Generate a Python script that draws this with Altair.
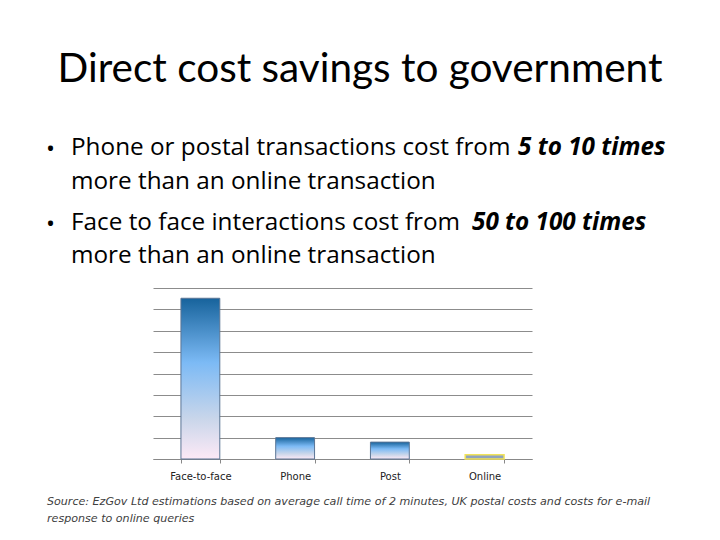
import altair as alt
import pandas as pd

categories = ["Face-to-face", "Phone", "Post", "Online"]
values = [7.52, 1.0, 0.79, 0.2]

title_text = "Direct cost savings to government"
bullet1_normal = "Phone or postal transactions cost from "
bullet1_bold = "5 to 10 times"
bullet1_cont = "more than an online transaction"
bullet2_normal = "Face to face interactions cost from "
bullet2_bold = "50 to 100 times"
bullet2_cont = "more than an online transaction"
source1 = "Source: EzGov Ltd estimations based on average call time of 2 minutes, UK postal costs and costs for e-mail"
source2 = "response to online queries"

df = pd.DataFrame({"category": categories, "value": values})

W, H = 379, 171
OX, OY = 153, 288  # plot origin in page pixels

def px(x):
    return x - OX

def py(y):
    return y - OY

xenc = alt.X("category:N", sort=categories, title=None,
             scale=alt.Scale(paddingInner=0.59, paddingOuter=0.295),
             axis=alt.Axis(labelAngle=0, labelFont="DejaVu Sans", labelFontSize=10,
                           labelColor="#222222", labelPadding=8, tickBand="extent",
                           tickSize=4, tickColor="#888888", domainColor="#888888",
                           grid=False))
yenc = alt.Y("value:Q", title=None,
             scale=alt.Scale(domain=[0, 8], nice=False),
             axis=alt.Axis(labels=False, ticks=False, domain=False, tickCount=8,
                           grid=True, gridColor="#8c8c8c", gridWidth=1))

grad = alt.Gradient(
    gradient="linear",
    stops=[alt.GradientStop(color="#17639c", offset=0),
           alt.GradientStop(color="#7cbaf5", offset=0.4),
           alt.GradientStop(color="#c9d6ea", offset=0.75),
           alt.GradientStop(color="#fde9f6", offset=1)],
    x1=0, x2=0, y1=0, y2=1)

bars = alt.Chart(df).transform_filter(alt.datum.category != "Online").mark_bar(
    fill=grad, stroke="#5b7595", strokeWidth=1
).encode(x=xenc, y=yenc)

online = alt.Chart(df).transform_filter(alt.datum.category == "Online").mark_bar(
    fill="#8fa3bf", stroke="#f2e35a", strokeWidth=1.5
).encode(x=xenc, y=yenc)

def txt(s, x, y, size, font="Open Sans", style="normal", weight="normal", color="#000000", align="left"):
    return alt.Chart(pd.DataFrame({"t": [s]})).mark_text(
        font=font, fontSize=size, fontStyle=style, fontWeight=weight, color=color,
        align=align, baseline="alphabetic"
    ).encode(x=alt.value(px(x)), y=alt.value(py(y)), text="t:N")

BS = 24.3
texts = [
    txt(title_text, 360, 82, 40.5, font="Lato", align="center"),
    txt("\u2022", 46, 157, 24),
    txt(bullet1_normal, 71, 155, BS),
    txt(bullet1_bold, 518, 155, BS, style="italic", weight="bold"),
    txt(bullet1_cont, 71, 189, BS),
    txt("\u2022", 46, 232, 24),
    txt(bullet2_normal, 71, 230, BS),
    txt(bullet2_bold, 472, 230, BS, style="italic", weight="bold"),
    txt(bullet2_cont, 71, 263, BS),
    txt(source1, 47, 505, 11.1, font="DejaVu Sans", style="italic", color="#404040"),
    txt(source2, 47, 522, 11.1, font="DejaVu Sans", style="italic", color="#404040"),
]

chart = alt.layer(bars, online, *texts).properties(
    width=W, height=H,
    background="white",
    autosize=alt.AutoSizeParams(type="none"),
    padding={"left": OX - 8, "top": OY - 8, "right": 720 - 8 - OX - W, "bottom": 540 - 8 - OY - H},
).configure_view(strokeWidth=0)

chart.save("out.html", embed_options={"renderer": "svg", "actions": False})
